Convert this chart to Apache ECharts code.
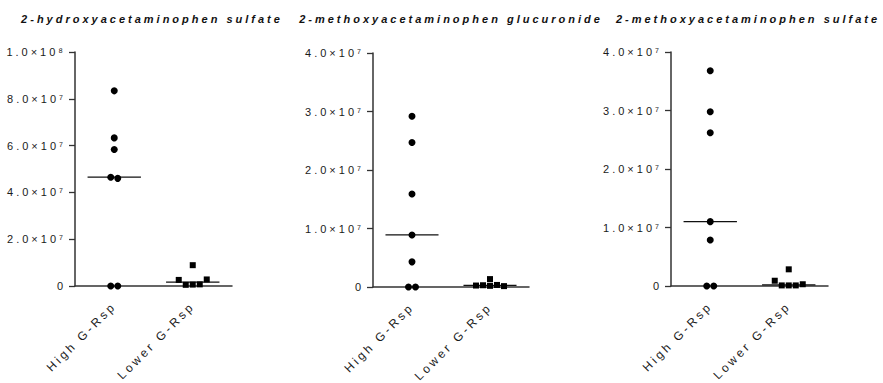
<!DOCTYPE html>
<html>
<head>
<meta charset="utf-8">
<title>Acetaminophen metabolites by G-Rsp group</title>
<script src="https://cdn.jsdelivr.net/npm/echarts@6/dist/echarts.min.js"></script>
<style>
  html, body { margin: 0; padding: 0; background: #fff; }
  #chart { width: 883px; height: 383px; }
  /* wide tracking on every label, as in the printed figure */
  #chart text { letter-spacing: 3px; }
</style>
</head>
<body>
<div id="chart"></div>
<script>
// ---- data ----
const categories = ['High G-Rsp', 'Lower G-Rsp'];
const panelTitles = [
  '2-hydroxyacetaminophen sulfate',
  '2-methoxyacetaminophen glucuronide',
  '2-methoxyacetaminophen sulfate'
];

// 2-hydroxyacetaminophen sulfate
const hydroxySulfateHigh  = [83.4e6, 63.3e6, 58.3e6, 46.5e6, 46.0e6, 0, 0];
const hydroxySulfateLower = [2.6e6, 0.5e6, 0.6e6, 0.7e6, 2.8e6, 8.9e6];

// 2-methoxyacetaminophen glucuronide
const methoxyGlucHigh  = [29.2e6, 24.7e6, 15.9e6, 8.9e6, 4.3e6, 0, 0];
const methoxyGlucLower = [0.25e6, 0.3e6, 0.2e6, 0.35e6, 0.15e6, 1.35e6];

// 2-methoxyacetaminophen sulfate
const methoxySulfateHigh  = [36.8e6, 29.8e6, 26.2e6, 11.0e6, 7.85e6, 0, 0];
const methoxySulfateLower = [0.9e6, 0.1e6, 0.1e6, 0.1e6, 0.3e6, 2.85e6];

// y axis ranges
const axisMax  = [1e8, 4e7, 4e7];
const axisStep = [2e7, 1e7, 1e7];

const panels = [
  [hydroxySulfateHigh, hydroxySulfateLower],
  [methoxyGlucHigh, methoxyGlucLower],
  [methoxySulfateHigh, methoxySulfateLower]
];

// ---- helpers ----
const SUP = ['\u2070','\u00B9','\u00B2','\u00B3','\u2074','\u2075','\u2076','\u2077','\u2078','\u2079'];
function sciLabel(v) {
  if (v === 0) return '0';
  const e = Math.floor(Math.log10(v) + 1e-9);
  const m = v / Math.pow(10, e);
  return m.toFixed(1) + '\u00D710' + String(e).split('').map(d => SUP[+d]).join('');
}
function median(arr) {
  const s = arr.slice().sort((a, b) => a - b);
  const n = s.length;
  return n % 2 ? s[(n - 1) / 2] : (s[n / 2 - 1] + s[n / 2]) / 2;
}

const INK = '#1a1a1a';
const FONT = 'Arial, "Liberation Sans", sans-serif';
const grids = [
  { left: 75,  top: 52, width: 157, height: 234 },
  { left: 373, top: 53, width: 156, height: 234 },
  { left: 671, top: 52, width: 157, height: 234 }
];
const titleCenters = [152, 451, 748];

const option = {
  animation: false,
  backgroundColor: '#fff',
  title: panelTitles.map((t, i) => ({
    text: t,
    left: titleCenters[i],
    top: 13,
    textAlign: 'center',
    padding: 0,
    textStyle: { fontFamily: FONT, fontSize: 11, fontWeight: 'bold', fontStyle: 'italic', color: '#111' }
  })),
  grid: grids,
  xAxis: grids.map((g, i) => ({
    type: 'category',
    gridIndex: i,
    data: categories,
    boundaryGap: true,
    axisLine: { lineStyle: { color: '#333', width: 1.5 } },
    axisTick: { alignWithLabel: true, length: 7, lineStyle: { color: '#333', width: 1.3 } },
    axisLabel: { rotate: 45, margin: 18, fontFamily: FONT, fontSize: 12, color: INK, interval: 0 },
    splitLine: { show: false }
  })),
  yAxis: grids.map((g, i) => ({
    type: 'value',
    gridIndex: i,
    min: 0,
    max: axisMax[i],
    interval: axisStep[i],
    axisLine: { show: true, lineStyle: { color: '#333', width: 1.5 } },
    axisTick: { show: true, length: 6, lineStyle: { color: '#333', width: 1.3 } },
    axisLabel: { margin: 9, fontFamily: FONT, fontSize: 11, color: INK, formatter: sciLabel },
    splitLine: { show: false }
  })),
  series: []
};

panels.forEach((groups, i) => {
  option.series.push({
    id: 'median' + i,
    type: 'custom',
    xAxisIndex: i, yAxisIndex: i,
    z: 1,
    data: groups.map((vals, c) => [c, median(vals)]),
    renderItem: (params, api) => {
      const p = api.coord([api.value(0), api.value(1)]);
      const half = api.size([1, 0])[0] * 0.34;
      return {
        type: 'line',
        shape: { x1: p[0] - half, y1: p[1], x2: p[0] + half, y2: p[1] },
        style: { stroke: '#111', lineWidth: 1.3 }
      };
    }
  });
  groups.forEach((vals, c) => {
    option.series.push({
      id: 'pts' + i + '_' + c,
      type: 'scatter',
      xAxisIndex: i, yAxisIndex: i,
      z: 3,
      clip: false,
      symbol: c === 0 ? 'circle' : 'rect',
      symbolSize: c === 0 ? 7 : 6,
      itemStyle: { color: '#000', opacity: 1 },
      data: vals.map(v => [c, v])
    });
  });
});

const chart = echarts.init(document.getElementById('chart'), null, { renderer: 'svg' });
chart.setOption(option);

// Spread coincident points sideways: points whose screen heights are within
// one row height share a row, and each row is centred on its category.
const ROW_H = 6;
const STEP = 7;
const updates = [];
panels.forEach((groups, i) => {
  groups.forEach((vals, c) => {
    const py = vals.map(v => chart.convertToPixel({ xAxisIndex: i, yAxisIndex: i }, [c, v])[1]);
    const order = vals.map((v, k) => k).sort((a, b) => py[b] - py[a]);
    const offsets = new Array(vals.length).fill(0);
    let start = 0;
    while (start < order.length) {
      const baseY = py[order[start]];
      let end = start;
      while (end + 1 < order.length && baseY - py[order[end + 1]] <= ROW_H) end++;
      const row = order.slice(start, end + 1).sort((a, b) => a - b);
      row.forEach((k, j) => { offsets[k] = (j - (row.length - 1) / 2) * STEP; });
      start = end + 1;
    }
    updates.push({
      id: 'pts' + i + '_' + c,
      data: vals.map((v, k) => ({ value: [c, v], symbolOffset: [offsets[k], 0] }))
    });
  });
});
chart.setOption({ series: updates });
</script>
</body>
</html>
